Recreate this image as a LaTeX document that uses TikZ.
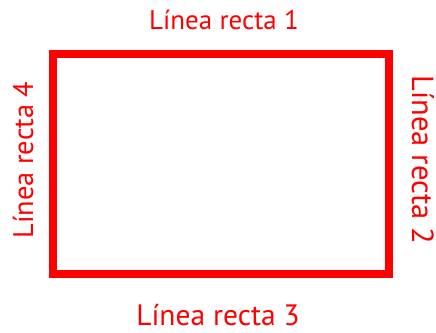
\documentclass[tikz,border=0pt]{standalone}
\usepackage{fontspec}
\setmainfont{PT Sans}
\usetikzlibrary{positioning}
\definecolor{linered}{RGB}{255,0,0}

\begin{document}
\begin{tikzpicture}[x=1pt,y=-1pt,line join=miter,
  sidelabel/.style={text=linered,font=\fontsize{#1}{#1}\selectfont,inner sep=0pt,anchor=base}]
 \useasboundingbox (0,0) rectangle (436,332);
 \coordinate (tl) at (53,54);
 \coordinate (br) at (389,274);
 \draw[linered,line width=8pt] (tl) rectangle (br);
 \node[sidelabel=27] (top) at (224,29) {Línea recta 1};
 \node[sidelabel=30.5,rotate=-90] (right) at (412,160) {Línea recta 2};
 \node[sidelabel=29.5] (bottom) at (218,325) {Línea recta 3};
 \node[sidelabel=28.3,rotate=90] (left) at (33,160) {Línea recta 4};
\end{tikzpicture}
\end{document}
